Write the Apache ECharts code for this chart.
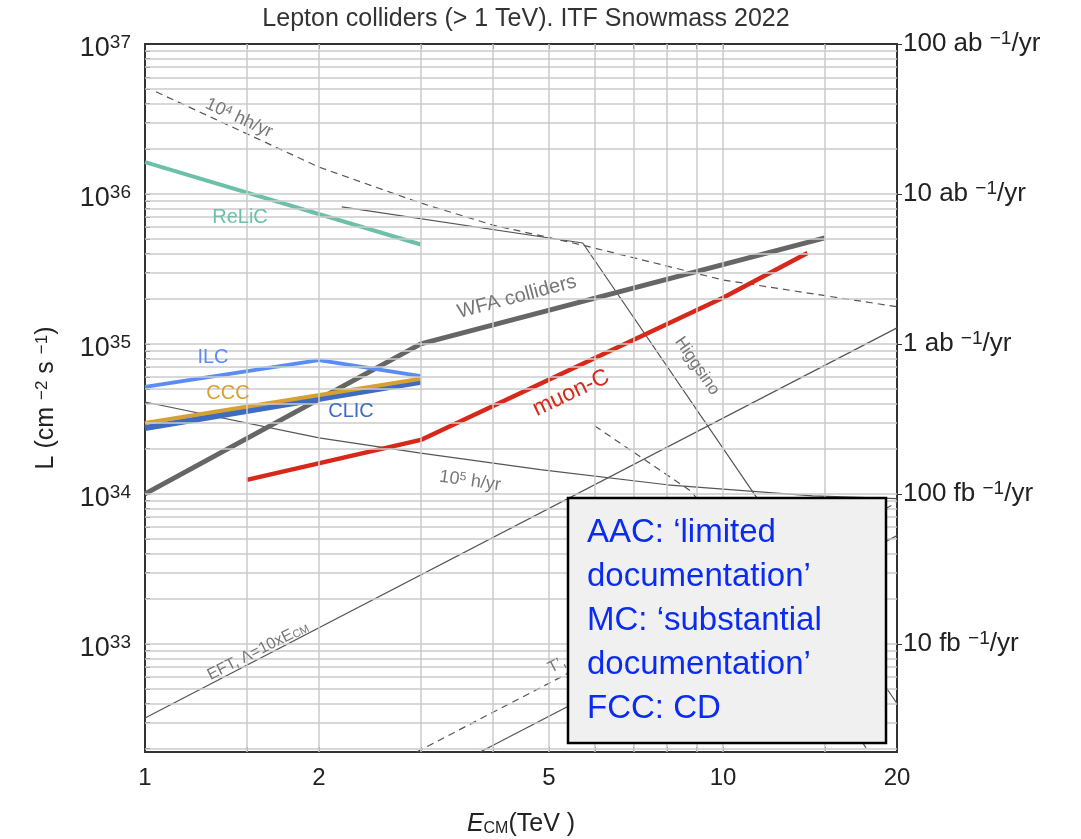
<!DOCTYPE html>
<html>
<head>
<meta charset="utf-8">
<script src="https://cdn.jsdelivr.net/npm/echarts@6/dist/echarts.min.js"></script>
<style>
  html, body { margin: 0; padding: 0; background: #fff; }
  #chart { width: 1081px; height: 839px; }
</style>
</head>
<body>
<div id="chart"></div>
<script>
// axis ticks / grid positions
const xLabels = [1, 2, 5, 10, 20];
const xGrid = [1.5, 2, 3, 4, 5, 6, 7, 8, 9, 10, 15];
const yDecades = [1e33, 1e34, 1e35, 1e36, 1e37];
const yGridDecades = [32, 33, 34, 35, 36];
const yGridMantissa = [1, 2, 3, 4, 5, 6, 7, 8, 9];
const rightLabels = ["10 fb {sup|−1}/yr", "100 fb {sup|−1}/yr", "1 ab {sup|−1}/yr", "10 ab {sup|−1}/yr", "100 ab {sup|−1}/yr"];

// [E_CM (TeV), L (cm^-2 s^-1)]
const relic = [[1, 1.63e36], [3, 4.6e35]];
const hh4 = [[1.045, 4.8e36], [2, 1.51e36], [3, 8.7e35], [4, 6.2e35], [5.7, 4.57e35], [10, 2.67e35], [20, 1.77e35]];
const higgsino = [[2.19, 8.2e35], [5.72, 4.71e35], [11.36, 9.8e33], [20, 4.0e32]];
const wfa = [[1, 1e34], [3, 1e35], [15, 5.1e35]];
const ilc = [[1, 5.17e34], [2, 7.8e34], [3, 6.1e34]];
const ccc = [[1, 2.97e34], [3, 5.85e34]];
const clic = [[1, 2.75e34], [3, 5.58e34]];
const muonC = [[1.5, 1.24e34], [3, 2.29e34], [10, 2.03e35], [14, 4.04e35]];
const h5 = [[1, 4.1e34], [2, 2.36e34], [3, 1.87e34], [4.83, 1.45e34], [8, 1.15e34], [14.3, 9.7e33], [20, 9.3e33]];
const eft = [[1, 3.2e32], [20, 1.28e35]];
const tprime = [[2.95, 1.9e32], [20, 8.76e33]];
const lowerSolid = [[3.8, 1.9e32], [20, 5.27e33]];
const shortDash = [[6.0, 2.84e34], [8.84, 1.03e34], [17.8, 1.95e32]];

const chart = echarts.init(document.getElementById("chart"));

const yGrid = [];
yGridDecades.forEach((d) => {
  yGridMantissa.forEach((m) => {
    const v = m * Math.pow(10, d);
    if (v > 1.9e32 && v < 1e37) yGrid.push(v);
  });
});

const font = "Liberation Sans";
const thinGray = "#555";
const labelGray = "#777";

function curve(name, data, color, width, type) {
  return {
    name: name,
    type: "line",
    data: data,
    symbol: "none",
    silent: true,
    z: 3,
    lineStyle: { color: color, width: width, type: type || "solid", cap: "butt" },
  };
}

function note(text, x, y, color, size, rotation, rich) {
  return {
    type: "text",
    x: x,
    y: y,
    rotation: rotation || 0,
    z: 10,
    style: {
      text: text,
      fill: color,
      font: size + "px " + font,
      align: "center",
      verticalAlign: "middle",
      rich: rich,
    },
  };
}

const supRich = (size) => ({ sup: { fontSize: size, verticalAlign: "top", fontFamily: font } });

chart.setOption({
  animation: false,
  backgroundColor: "#fff",
  textStyle: { fontFamily: font },
  title: {
    text: "Lepton colliders (> 1 TeV). ITF Snowmass 2022",
    left: 521,
    textAlign: "center",
    top: 2,
    textStyle: { fontSize: 25, fontWeight: "normal", color: "#333", fontFamily: font },
  },
  grid: {
    left: 145,
    right: 184,
    top: 44,
    bottom: 87,
    outerBoundsMode: "none",
    containLabel: false,
    show: true,
    borderColor: "#333",
    borderWidth: 2,
  },
  xAxis: [
    {
      type: "log",
      logBase: 10,
      min: 1,
      max: 20,
      name: "{it|E}{sub|CM}(TeV )",
      nameLocation: "middle",
      nameGap: 60,
      nameTextStyle: {
        fontSize: 25,
        color: "#222",
        rich: {
          it: { fontSize: 25, fontStyle: "italic", fontFamily: font },
          sub: { fontSize: 16, verticalAlign: "bottom", fontFamily: font, padding: [8, 0, 0, 0] },
        },
      },
      axisLine: { show: false },
      axisTick: { show: true, inside: true, length: 5, customValues: xGrid, lineStyle: { color: "#333" } },
      axisLabel: { customValues: xLabels, fontSize: 24, color: "#222", margin: 14 },
      splitLine: { show: false },
      minorSplitLine: { show: false },
    },
    {
      type: "log",
      logBase: 10,
      min: 1,
      max: 20,
      position: "top",
      axisLine: { show: false },
      axisTick: { show: true, inside: true, length: 5, customValues: xGrid, lineStyle: { color: "#333" } },
      axisLabel: { show: false },
      splitLine: { show: false },
    },
  ],
  yAxis: [
    {
      type: "log",
      logBase: 10,
      min: 1.9e32,
      max: 1e37,
      name: "L (cm {sup|−2} s {sup|−1})",
      nameLocation: "middle",
      nameGap: 86,
      nameRotate: 90,
      nameTextStyle: { fontSize: 25, color: "#222", rich: supRich(17) },
      axisLine: { show: false },
      axisTick: { show: true, inside: true, length: 5, customValues: yGrid, lineStyle: { color: "#333" } },
      axisLabel: {
        customValues: yDecades,
        fontSize: 27,
        color: "#222",
        margin: 14,
        padding: [10, 0, 0, 0],
        formatter: (v) => "10{sup|" + Math.round(Math.log10(v)) + "}",
        rich: { sup: { fontSize: 19, verticalAlign: "top", fontFamily: font, padding: [0, 0, 12, 0] } },
      },
      splitLine: { show: false },
    },
    {
      type: "log",
      logBase: 10,
      min: 1.9e32,
      max: 1e37,
      position: "right",
      axisLine: { show: false },
      axisTick: { show: true, inside: false, length: 5, customValues: yDecades, lineStyle: { color: "#333" } },
      axisLabel: {
        customValues: yDecades,
        fontSize: 26,
        color: "#222",
        margin: 6,
        formatter: (v) => rightLabels[Math.round(Math.log10(v)) - 33],
        rich: { sup: { fontSize: 19, verticalAlign: "top", fontFamily: font, padding: [0, 0, 10, 0] } },
      },
      splitLine: { show: false },
    },
  ],
  series: [
    {
      name: "grid",
      type: "line",
      data: [],
      silent: true,
      z: 1,
      markLine: {
        silent: true,
        symbol: ["none", "none"],
        label: { show: false },
        animation: false,
        lineStyle: { color: "#cbcbcb", width: 1.5, type: "solid" },
        data: xGrid.map((v) => ({ xAxis: v })).concat(yGrid.map((v) => ({ yAxis: v }))),
      },
    },
    curve("hh4", hh4, thinGray, 1.2, [7, 5]),
    curve("higgsino", higgsino, thinGray, 1.2),
    curve("h5", h5, thinGray, 1.2),
    curve("eft", eft, thinGray, 1.2),
    curve("tprime", tprime, thinGray, 1.2, [7, 5]),
    curve("lower", lowerSolid, thinGray, 1.2),
    curve("shortDash", shortDash, thinGray, 1.2, [7, 5]),
    curve("ReLiC", relic, "#6cc0a8", 4),
    curve("WFA colliders", wfa, "#666666", 5),
    curve("ILC", ilc, "#5a8cf6", 4),
    curve("CLIC", clic, "#3d6cc2", 6),
    curve("CCC", ccc, "#d6a033", 4),
    curve("muon-C", muonC, "#d8281a", 4.5),
  ],
  graphic: [
    note("10{sup|4} hh/yr", 239, 118, labelGray, 18, -0.43, supRich(12)),
    note("ReLiC", 240, 217, "#6cc0a8", 20),
    note("WFA colliders", 517, 297, labelGray, 20, 0.26),
    note("Higgsino", 697, 366, labelGray, 17, -0.97),
    note("ILC", 213, 357, "#5a8cf6", 20),
    note("CCC", 228, 393, "#d6a033", 20),
    note("CLIC", 351, 411, "#3d6cc2", 20),
    note("muon-C", 571, 393, "#d8281a", 23, 0.44),
    note("10{sup|5} h/yr", 470, 481, labelGray, 18, -0.14, supRich(12)),
    note("EFT, Λ=10xE{sub|CM}", 258, 651, labelGray, 16, 0.47, { sub: { fontSize: 11, verticalAlign: "bottom" } }),
    note("T’,", 557, 665, labelGray, 16, 0.47),
    {
      type: "rect",
      z: 20,
      shape: { x: 568, y: 498, width: 318, height: 245 },
      style: { fill: "#f0f0f0", stroke: "#000", lineWidth: 2.5 },
    },
    {
      type: "text",
      z: 21,
      x: 587,
      y: 511,
      style: {
        text: "AAC: ‘limited\ndocumentation’\nMC: ‘substantial\ndocumentation’\nFCC: CD",
        fill: "#0b2cf0",
        font: "33px " + font,
        lineHeight: 44,
        align: "left",
        verticalAlign: "top",
      },
    },
  ],
});
</script>
</body>
</html>
